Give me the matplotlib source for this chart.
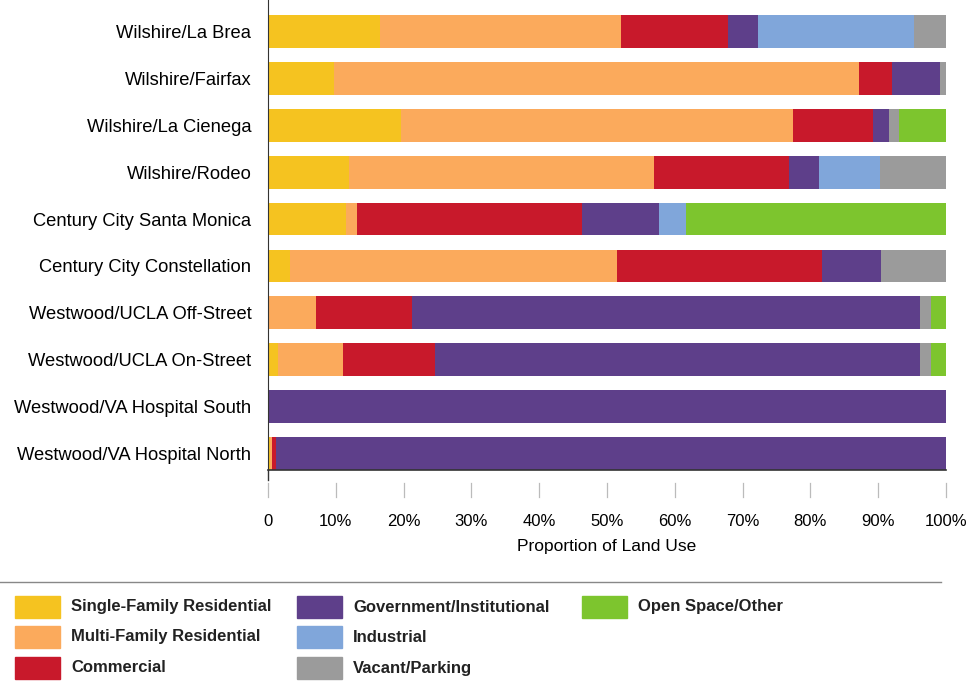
import matplotlib.pyplot as plt
from matplotlib.patches import Rectangle
from matplotlib.lines import Line2D
import matplotlib.transforms as mtransforms

plt.rcParams['font.family'] = ['Liberation Sans', 'DejaVu Sans']

# station areas, top to bottom
stations = [
    "Wilshire/La Brea",
    "Wilshire/Fairfax",
    "Wilshire/La Cienega",
    "Wilshire/Rodeo",
    "Century City Santa Monica",
    "Century City Constellation",
    "Westwood/UCLA Off-Street",
    "Westwood/UCLA On-Street",
    "Westwood/VA Hospital South",
    "Westwood/VA Hospital North",
]

# land use shares in percent
single_family = [16.5, 9.7, 19.6, 12.0, 11.5, 3.2, 0.0, 1.5, 0.0, 0.3]
multi_family = [35.5, 77.4, 57.8, 44.9, 1.7, 48.3, 7.1, 9.6, 0.0, 0.3]
commercial = [15.8, 4.9, 11.8, 20.0, 33.1, 30.2, 14.1, 13.5, 0.0, 0.6]
government = [4.5, 7.1, 2.4, 4.3, 11.4, 8.7, 74.9, 71.5, 100.0, 98.8]
industrial = [23.0, 0.0, 0.0, 9.1, 4.0, 0.0, 0.0, 0.0, 0.0, 0.0]
vacant = [4.7, 0.9, 1.5, 9.7, 0.0, 9.6, 1.7, 1.7, 0.0, 0.0]
open_space = [0.0, 0.0, 6.9, 0.0, 38.3, 0.0, 2.2, 2.2, 0.0, 0.0]

series = [
    ("Single-Family Residential", single_family, "#F5C320"),
    ("Multi-Family Residential", multi_family, "#FBAA5C"),
    ("Commercial", commercial, "#C8192B"),
    ("Government/Institutional", government, "#5E3F8A"),
    ("Industrial", industrial, "#80A6DA"),
    ("Vacant/Parking", vacant, "#9B9B9B"),
    ("Open Space/Other", open_space, "#7DC52E"),
]

W, H = 971, 683
AX_H = 470
fig = plt.figure(figsize=(W / 100, H / 100), dpi=100)
ax = fig.add_axes([268 / W, 1 - AX_H / H, 678 / W, AX_H / H])

y = list(range(len(stations)))
left = [0.0] * len(stations)
for name, vals, col in series:
    ax.barh(y, vals, left=left, height=0.7, color=col, edgecolor='none')
    left = [a + b for a, b in zip(left, vals)]

ax.set_ylim(9.36, -0.68)
ax.set_xlim(0, 100)
ax.set_yticks(y)
ax.set_yticklabels(stations, fontsize=13.2)
ax.tick_params(axis='y', length=0, pad=12)

ax.set_xticks(range(0, 101, 10))
ax.set_xticklabels(["0"] + [f"{v}%" for v in range(10, 101, 10)], fontsize=12)
ax.tick_params(axis='x', length=0, pad=32)
ax.set_xlabel("Proportion of Land Use", fontsize=12.5, labelpad=7)

# detached tick marks below the axis, as in the original
trans = mtransforms.blended_transform_factory(ax.transData, ax.transAxes)
for t in ax.get_xticks():
    ax.plot([t, t], [-13 / AX_H, -27 / AX_H], color='#BBBBBB', lw=0.9,
            transform=trans, clip_on=False)

for s in ['top', 'right']:
    ax.spines[s].set_visible(False)
ax.spines['bottom'].set_color('#333333')
ax.spines['left'].set_color('#333333')
ax.spines['bottom'].set_linewidth(1.2)
ax.plot([0, 0], [0, -10 / AX_H], color='#333333', lw=1,
        transform=ax.transAxes, clip_on=False)

# separator line above legend
fig.add_artist(Line2D([0, 941 / W], [1 - 582 / H] * 2, color='#888888', lw=1))

# legend drawn by hand, column-major like the original
col_x = [15, 297, 582]
row_y = [607, 637, 668]
for i, (name, vals, col) in enumerate(series):
    cx = col_x[i // 3]
    ry = row_y[i % 3]
    fig.add_artist(Rectangle((cx / W, 1 - (ry + 11) / H), 45 / W, 22 / H,
                             color=col, transform=fig.transFigure))
    fig.text((cx + 56) / W, 1 - ry / H, name, fontsize=12, fontweight='bold',
             va='center', ha='left', color='#222222')

fig.savefig("out.png", dpi=100)
